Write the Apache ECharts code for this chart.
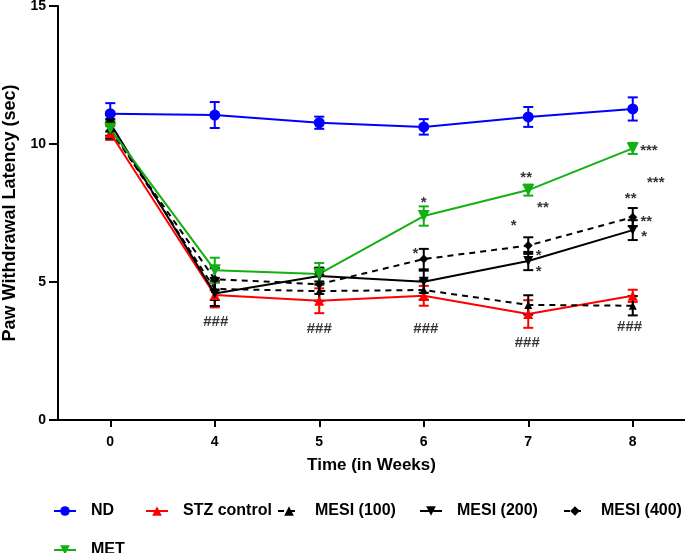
<!DOCTYPE html>
<html>
<head>
<meta charset="utf-8">
<script src="https://cdn.jsdelivr.net/npm/echarts@6/dist/echarts.min.js"></script>
<style>
html,body{margin:0;padding:0;background:#fff;}
#chart{width:685px;height:553px;}
</style>
</head>
<body>
<div id="chart"></div>
<script>
// ---- data ----
const weeks = ['0', '4', '5', '6', '7', '8'];
const ND        = [11.10, 11.05, 10.77, 10.62, 10.98, 11.27];
const ND_err    = [0.38, 0.47, 0.22, 0.28, 0.36, 0.42];
const STZ       = [10.40, 4.53, 4.32, 4.50, 3.84, 4.50];
const STZ_err   = [0.25, 0.45, 0.45, 0.36, 0.50, 0.22];
const MESI100     = [10.60, 4.75, 4.67, 4.71, 4.17, 4.14];
const MESI100_err = [0.30, 0.40, 0.35, 0.35, 0.35, 0.35];
const MESI200     = [10.75, 4.58, 5.22, 5.01, 5.76, 6.88];
const MESI200_err = [0.30, 0.45, 0.30, 0.40, 0.33, 0.36];
const MESI400     = [10.50, 5.10, 4.92, 5.83, 6.32, 7.35];
const MESI400_err = [0.30, 0.40, 0.35, 0.37, 0.30, 0.33];
const MET       = [10.55, 5.43, 5.29, 7.39, 8.33, 9.84];
const MET_err   = [0.30, 0.45, 0.40, 0.35, 0.20, 0.20];
// significance marks: [x position (category index), y value, text]
const marks = [
  [1.01, 3.55, '###'], [2.00, 3.30, '###'], [3.02, 3.30, '###'], [3.99, 2.79, '###'], [4.97, 3.37, '###'],
  [3.00, 7.86, '*'], [2.92, 6.01, '*'],
  [3.98, 8.77, '**'], [4.14, 7.68, '**'], [3.86, 7.03, '*'], [4.10, 5.94, '*'], [4.10, 5.36, '*'],
  [5.155, 9.75, '***'], [5.22, 8.59, '***'], [4.98, 8.01, '**'], [5.13, 7.17, '**'], [5.11, 6.63, '*']
];

const FONT = '"Liberation Sans", Arial, sans-serif';
const chart = echarts.init(document.getElementById('chart'), null, {renderer: 'canvas'});

const downTri = 'path://M0,0 L10,0 L5,9 Z';

const groups = [
  {name: 'ND', data: ND, err: ND_err, color: '#0000FF', symbol: 'circle', size: 11, dash: 'solid'},
  {name: 'STZ control', data: STZ, err: STZ_err, color: '#FF0000', symbol: 'triangle', size: 10, dash: 'solid'},
  {name: 'MESI (100)', data: MESI100, err: MESI100_err, color: '#000000', symbol: 'triangle', size: 8, dash: [6, 5]},
  {name: 'MESI (200)', data: MESI200, err: MESI200_err, color: '#000000', symbol: downTri, size: 10, dash: 'solid'},
  {name: 'MESI (400)', data: MESI400, err: MESI400_err, color: '#000000', symbol: 'diamond', size: 9, dash: [6, 5]},
  {name: 'MET', data: MET, err: MET_err, color: '#12B012', symbol: downTri, size: 12, dash: 'solid'}
];

const series = [];
groups.forEach(function (g) {
  series.push({
    type: 'custom',
    name: g.name + ' err',
    xAxisIndex: 0, yAxisIndex: 0,
    data: g.data.map(function (v, i) { return [i, v, g.err[i]]; }),
    renderItem: function (params, api) {
      const i = api.value(0), m = api.value(1), e = api.value(2);
      const hi = api.coord([i, m + e]);
      const lo = api.coord([i, m - e]);
      const st = {stroke: g.color, lineWidth: 2};
      return {type: 'group', children: [
        {type: 'line', shape: {x1: hi[0], y1: hi[1], x2: lo[0], y2: lo[1]}, style: st},
        {type: 'line', shape: {x1: hi[0] - 5, y1: hi[1], x2: hi[0] + 5, y2: hi[1]}, style: st},
        {type: 'line', shape: {x1: lo[0] - 5, y1: lo[1], x2: lo[0] + 5, y2: lo[1]}, style: st}
      ]};
    },
    silent: true,
    z: 2
  });
  series.push({
    type: 'line',
    name: g.name,
    data: g.data,
    symbol: g.symbol,
    symbolSize: g.size,
    showAllSymbol: true,
    lineStyle: {color: g.color, width: 2, type: g.dash},
    itemStyle: {color: g.color, borderWidth: 0},
    emphasis: {disabled: true},
    animation: false,
    z: 3
  });
});

series.push({
  type: 'scatter',
  name: 'marks',
  xAxisIndex: 1, yAxisIndex: 0,
  data: marks.map(function (m) { return [m[0], m[1], m[2]]; }),
  symbolSize: 0,
  silent: true,
  label: {
    show: true, position: 'inside',
    formatter: function (p) { return p.value[2]; },
    color: '#000', fontFamily: FONT, fontSize: 15, fontWeight: 'bold'
  },
  z: 5
});

function legendItem(name, left, top) {
  return {
    data: [name], left: left, top: top, orient: 'horizontal',
    itemWidth: 22, itemHeight: 12, itemGap: 0,
    textStyle: {color: '#000', fontFamily: FONT, fontSize: 16, fontWeight: 'bold', padding: [0, 0, 0, 10]},
    selectedMode: false
  };
}

const option = {
  backgroundColor: '#ffffff',
  animation: false,
  grid: {left: 58, top: 6, right: 0, bottom: 133, containLabel: false, outerBoundsMode: 'none'},
  legend: [
    legendItem('ND', 48, 498),
    legendItem('STZ control', 140, 498),
    legendItem('MESI (100)', 272, 498),
    legendItem('MESI (200)', 414, 498),
    legendItem('MESI (400)', 558, 498),
    legendItem('MET', 48, 537)
  ],
  xAxis: [{
    type: 'category', data: weeks, boundaryGap: true,
    axisLine: {onZero: false, lineStyle: {color: '#000', width: 2}},
    axisTick: {show: true, alignWithLabel: true, length: 7, lineStyle: {color: '#000', width: 2}},
    axisLabel: {color: '#000', fontFamily: FONT, fontSize: 14, fontWeight: 'bold', margin: 15},
    name: 'Time (in Weeks)', nameLocation: 'middle', nameGap: 37,
    nameTextStyle: {color: '#000', fontFamily: FONT, fontSize: 17, fontWeight: 'bold'},
    splitLine: {show: false}
  }, {
    type: 'value', min: -0.5, max: 5.5, show: false
  }],
  yAxis: [{
    type: 'value', min: 0, max: 15, interval: 5,
    axisLine: {show: true, onZero: false, lineStyle: {color: '#000', width: 2}},
    axisTick: {show: true, length: 9, lineStyle: {color: '#000', width: 2}},
    axisLabel: {color: '#000', fontFamily: FONT, fontSize: 14, fontWeight: 'bold', margin: 12},
    splitLine: {show: false},
    name: 'Paw Withdrawal Latency (sec)', nameLocation: 'middle', nameGap: 36,
    nameTextStyle: {color: '#000', fontFamily: FONT, fontSize: 18, fontWeight: 'bold'}
  }],
  series: series
};
chart.setOption(option);
</script>
</body>
</html>
